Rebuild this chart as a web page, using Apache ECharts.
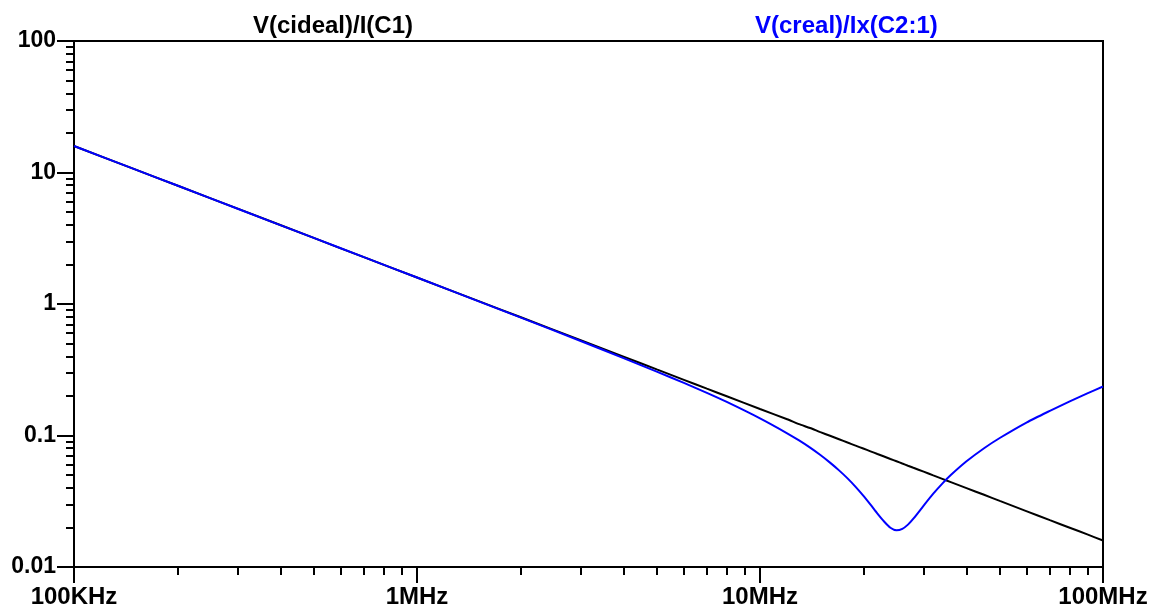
<!DOCTYPE html>
<html>
<head>
<meta charset="utf-8">
<script src="https://cdn.jsdelivr.net/npm/echarts@6/dist/echarts.min.js"></script>
<style>
html,body{margin:0;padding:0;background:#fff;}
#chart{width:1155px;height:609px;}
</style>
</head>
<body>
<div id="chart"></div>
<script>
// ---- data ----
const seriesNames = ['V(cideal)/I(C1)', 'V(creal)/Ix(C2:1)'];
const freq = [1e5,1.5e5,2e5,3e5,5e5,7e5,1e6,1.5e6,2e6,3e6,4e6,5e6,6e6,7e6,8e6,
  1e7,1.2e7,1.3e7,1.4e7,1.5e7,1.6e7,1.7e7,1.8e7,1.9e7,2e7,
  2.1e7,2.2e7,2.3e7,2.4e7,2.5e7,2.6e7,2.7e7,2.8e7,3e7,3.2e7,
  3.4e7,3.6e7,4e7,4.5e7,5e7,6e7,7e7,8e7,9e7,1e8];
const idealZ = [15.9,10.6,7.96,5.31,3.18,2.27,1.59,1.06,0.796,0.531,0.398,0.318,0.265,0.227,0.199,
  0.159,0.133,0.122,0.114,0.106,0.0995,0.0936,0.0884,0.0838,0.0796,
  0.0758,0.0723,0.0692,0.0663,0.0637,0.0612,0.0589,0.0568,0.0531,0.0497,
  0.0468,0.0442,0.0398,0.0354,0.0318,0.0265,0.0227,0.0199,0.0177,0.0159];
const realZ = [15.9,10.6,7.96,5.30,3.18,2.27,1.589,1.057,0.791,0.523,0.388,0.306,0.251,0.211,0.180,
  0.135,0.104,0.0917,0.0808,0.0710,0.0622,0.0543,0.0472,0.0407,0.0349,
  0.0298,0.0255,0.0222,0.0199,0.0190,0.0195,0.0210,0.0233,0.0293,0.0361,
  0.0431,0.0500,0.0636,0.0800,0.0957,0.126,0.154,0.182,0.209,0.236];
const xTickValues = [1e5,1e6,1e7,1e8];
const xTickLabels = ['100KHz','1MHz','10MHz','100MHz'];
const yTickValues = [0.01,0.1,1,10,100];
const yTickLabels = ['0.01','0.1','1','10','100'];
const xMinorTicks = [2e5,3e5,4e5,5e5,6e5,7e5,8e5,9e5,2e6,3e6,4e6,5e6,6e6,7e6,8e6,9e6,2e7,3e7,4e7,5e7,6e7,7e7,8e7,9e7];
const yMinorTicks = [0.02,0.03,0.04,0.05,0.06,0.07,0.08,0.09,0.2,0.3,0.4,0.5,0.6,0.7,0.8,0.9,2,3,4,5,6,7,8,9,20,30,40,50,60,70,80,90];

const FONT = 'Liberation Sans, Arial, sans-serif';
function lookup(vals, labels, v){
  for (let i=0;i<vals.length;i++){ if (Math.abs(Math.log10(v)-Math.log10(vals[i]))<1e-6) return labels[i]; }
  return '';
}
const chart = echarts.init(document.getElementById('chart'), null, {renderer:'canvas'});
const option = {
  animation:false,
  backgroundColor:'#fff',
  title:[
    {text:seriesNames[0], left:248, top:9, textStyle:{color:'#000', fontFamily:FONT, fontWeight:'bold', fontSize:24}},
    {text:seriesNames[1], left:750, top:9, textStyle:{color:'#0000ff', fontFamily:FONT, fontWeight:'bold', fontSize:24}}
  ],
  grid:{left:74, right:52, top:41, bottom:42, show:true, borderColor:'#000', borderWidth:2, outerBoundsMode:'none'},
  xAxis:[
    {type:'log', logBase:10, min:1e5, max:1e8, position:'bottom',
     axisLine:{show:true, lineStyle:{color:'#000', width:2}},
     axisTick:{show:true, inside:false, length:16, customValues:xTickValues, lineStyle:{color:'#000', width:2}},
     axisLabel:{show:true, margin:18, customValues:xTickValues, color:'#000', fontFamily:FONT, fontWeight:'bold', fontSize:24,
       formatter:function(v){return lookup(xTickValues,xTickLabels,v);}},
     splitLine:{show:false}, minorTick:{show:false}},
    {type:'log', logBase:10, min:1e5, max:1e8, position:'bottom',
     axisLine:{show:false},
     axisTick:{show:true, inside:false, length:8, customValues:xMinorTicks, lineStyle:{color:'#000', width:2}},
     axisLabel:{show:false}, splitLine:{show:false}}
  ],
  yAxis:[
    {type:'log', logBase:10, min:0.01, max:100, position:'left',
     axisLine:{show:true, lineStyle:{color:'#000', width:2}},
     axisTick:{show:true, inside:false, length:17, customValues:yTickValues, lineStyle:{color:'#000', width:2}},
     axisLabel:{show:true, margin:18, customValues:yTickValues, color:'#000', fontFamily:FONT, fontWeight:'bold', fontSize:23,
       formatter:function(v){return lookup(yTickValues,yTickLabels,v);}},
     splitLine:{show:false}},
    {type:'log', logBase:10, min:0.01, max:100, position:'left',
     axisLine:{show:false},
     axisTick:{show:true, inside:false, length:8, customValues:yMinorTicks, lineStyle:{color:'#000', width:2}},
     axisLabel:{show:false}, splitLine:{show:false}}
  ],
  series:[
    {name:seriesNames[0], type:'line', xAxisIndex:0, yAxisIndex:0, showSymbol:false, smooth:0.2,
     lineStyle:{color:'#000', width:2}, data:freq.map((f,i)=>[f,idealZ[i]])},
    {name:seriesNames[1], type:'line', xAxisIndex:0, yAxisIndex:0, showSymbol:false, smooth:0.2,
     lineStyle:{color:'#0000ff', width:2}, data:freq.map((f,i)=>[f,realZ[i]])}
  ]
};
chart.setOption(option);
</script>
</body>
</html>
